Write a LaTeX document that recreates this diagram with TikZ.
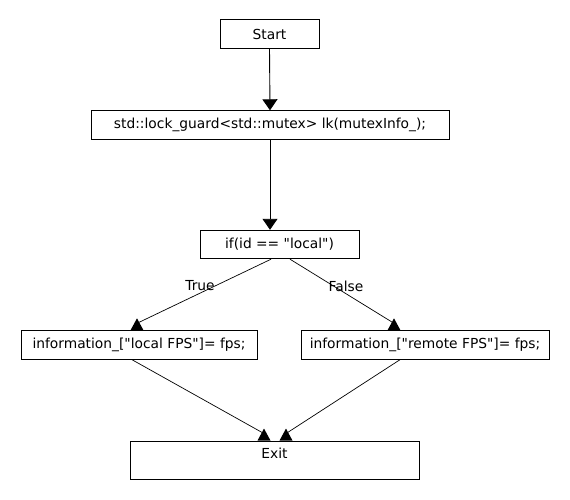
\documentclass[tikz,border=0pt]{standalone}
\usepackage{fontspec}
\setmainfont{DejaVu Sans}[Ligatures=TeXOff]
\usetikzlibrary{arrows.meta,positioning,calc}
\newcommand{\uptri}[1]{\fill ($(#1)+(-6.5,0)$) -- ($(#1)+(0,-12)$) -- ($(#1)+(6.5,0)$) -- cycle;}

\begin{document}
\begin{tikzpicture}[x=1pt,y=-1pt,
    stepbox/.style={draw,line width=0.9pt,inner sep=0pt,minimum height=28.5pt,font=\fontsize{13.8}{16}\selectfont},
    flow/.style={line width=0.9pt,-{Triangle[width=15pt,length=11pt]}},
    link/.style={line width=0.7pt},
    lbl/.style={inner sep=0pt,font=\fontsize{13.8}{16}\selectfont}]
                \useasboundingbox (0,0) rectangle (570,500);
                \node[stepbox,minimum width=99pt] (start) at (269.5,34) {Start};
                \node[stepbox,minimum width=358pt] (lock) at (270,125) {std::lock\_guard<std::mutex> lk(mutexInfo\_);};
                \node[stepbox,minimum width=159pt] (cond) at (279.5,244.5) {if(id == "local")};
                \node[stepbox,minimum width=236pt] (local) at (139,345) {information\_["local FPS"]= fps;};
                \node[stepbox,minimum width=248pt] (remote) at (425,345) {information\_["remote FPS"]= fps;};
                \node[stepbox,minimum width=289pt,minimum height=38pt,text height=10pt,text depth=14pt] (exit) at (274.5,460) {Exit};

                \node[lbl] (lblTrue) at (200,286) {True};
                \node[lbl] (lblFalse) at (346,286) {False};

                \coordinate (tipLocal) at ($(local.north)+(-2,0)$);
                \coordinate (tipRemote) at ($(remote.north)+(-31,0)$);
                \coordinate (tipExitL) at ($(exit.north)+(-10.5,0)$);
                \coordinate (tipExitR) at ($(exit.north)+(11.5,0)$);

                \draw[flow] (start.south) -- (lock.north);
                \draw[flow] (lock.south) -- (lock.south |- cond.north);

                \draw[link] ($(cond.south)+(-8.5,0)$) -- ($(tipLocal)+(0,-7)$);
                \draw[link] ($(cond.south)+(10.5,0)$) -- ($(tipRemote)+(0,-7)$);
                \draw[link] ($(local.south)+(-7,0)$) -- ($(tipExitL)+(0,-7)$);
                \draw[link] ($(remote.south)+(-25,0)$) -- ($(tipExitR)+(0,-7)$);

                \uptri{tipLocal}
                \uptri{tipRemote}
                \uptri{tipExitL}
                \uptri{tipExitR}
\end{tikzpicture}
\end{document}
